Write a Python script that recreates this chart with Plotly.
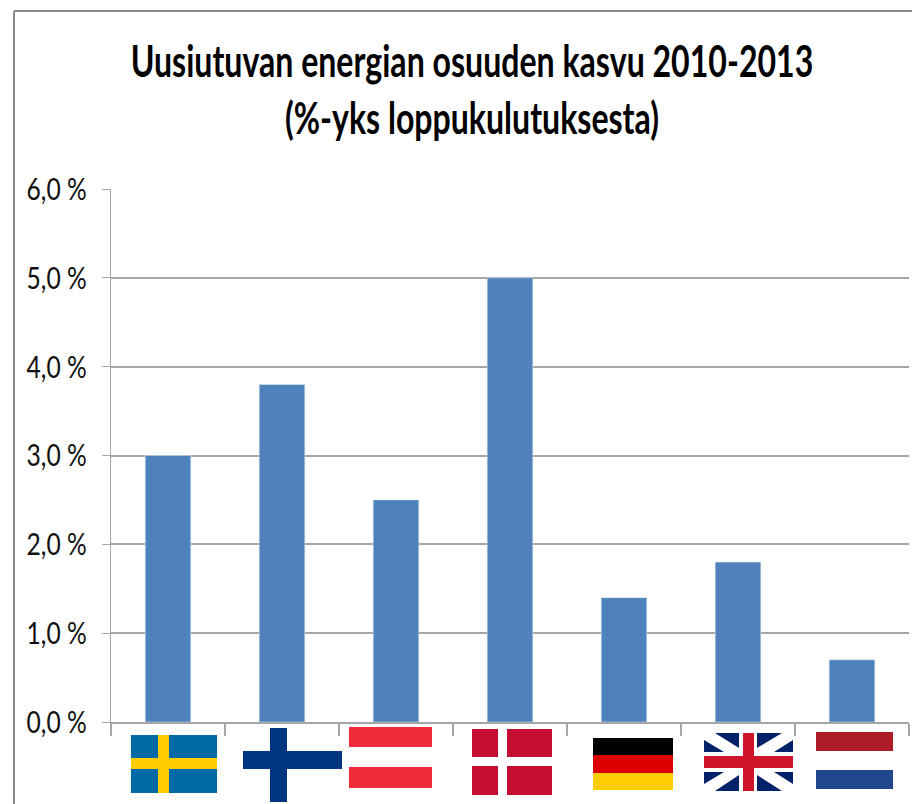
import plotly.graph_objects as go

countries = ["Ruotsi", "Suomi", "Itävalta", "Tanska", "Saksa", "Iso-Britannia", "Alankomaat"]
growth = [3.0, 3.8, 2.5, 5.0, 1.4, 1.8, 0.7]
y_ticks = [0, 1, 2, 3, 4, 5, 6]
y_labels = ["0,0 %", "1,0 %", "2,0 %", "3,0 %", "4,0 %", "5,0 %", "6,0 %"]
title_text = "Uusiutuvan energian osuuden kasvu 2010-2013<br>(%-yks loppukulutuksesta)"

W, H = 912, 804
L, R, T, B = 111, 909, 189, 722
FONT = "Lato, sans-serif"
GRAY = "#a6a6a6"


def px(x):
    return (x - L) / (R - L)


def py(y):
    return (B - y) / (B - T)


shapes = []


def rect(x0, y0, x1, y1, color):
    shapes.append(dict(type="rect", xref="paper", yref="paper", layer="above",
                       x0=px(x0), x1=px(x1), y0=py(y1), y1=py(y0),
                       fillcolor=color, line_width=0))


def poly(points, color):
    d = "M " + " L ".join(f"{px(a):.5f} {py(b):.5f}" for a, b in points) + " Z"
    shapes.append(dict(type="path", xref="paper", yref="paper", layer="above",
                       path=d, fillcolor=color, line_width=0))


# Sweden
rect(131, 735, 217, 793, "#006aa7")
rect(158, 735, 169, 793, "#fecc00")
rect(131, 758, 217, 769, "#fecc00")
# Finland
rect(243, 751, 342, 769, "#003580")
rect(270, 728, 287, 802, "#003580")
# Austria
rect(349, 727, 432, 747, "#ef2b3c")
rect(349, 767, 432, 788, "#ef2b3c")
# Denmark
for xa, xb in ((472, 498), (507, 552)):
    for ya, yb in ((729, 757), (766, 795)):
        rect(xa, ya, xb, yb, "#c60c30")
# Germany
rect(593, 738, 673, 755, "#000000")
rect(593, 755, 673, 773, "#dd0000")
rect(593, 773, 673, 790, "#ffce00")
# United Kingdom
UK_BLUE = "#012169"
for tri in (
    [(715, 733), (739, 733), (739, 748)],
    [(704, 740), (704, 752), (724, 752)],
    [(757, 733), (782, 733), (757, 748)],
    [(793, 740), (793, 752), (774, 752)],
    [(739, 791), (715, 791), (739, 775)],
    [(704, 784), (704, 772), (724, 772)],
    [(757, 791), (782, 791), (757, 775)],
    [(793, 784), (793, 772), (774, 772)],
):
    poly(tri, UK_BLUE)
rect(743, 733, 754, 791, "#cf142b")
rect(704, 756, 793, 768, "#cf142b")
# Netherlands
rect(816, 732, 893, 751, "#ae1c28")
rect(816, 770, 893, 789, "#21468b")

# Outer frame of the picture
for x0, y0, x1, y1 in ((14, 11, W, 11), (14, 11, 14, H)):
    shapes.append(dict(type="line", xref="paper", yref="paper", layer="above",
                       x0=px(x0), x1=px(x1), y0=py(y0), y1=py(y1),
                       line=dict(color="#8c8c8c", width=2)))

fig = go.Figure(go.Bar(x=countries, y=growth, marker_color="#4f81bd", width=0.4,
                       hovertemplate="%{x}: %{y:.1f} %<extra></extra>"))

fig.update_layout(
    width=W, height=H,
    margin=dict(l=L, r=W - R, t=T, b=H - B),
    paper_bgcolor="white", plot_bgcolor="white",
    showlegend=False,
    font=dict(family=FONT, color="#111111"),
    shapes=shapes,
    title=dict(text=title_text, x=472 / W, xanchor="center", y=1 - 77 / H, yanchor="top",
               font=dict(family=FONT, size=44, color="#000000", weight="bold")),
    xaxis=dict(type="category", showticklabels=False, ticks="outside", ticklen=12,
               tickwidth=1.5, tickcolor=GRAY, tickson="boundaries",
               showline=True, linecolor=GRAY, linewidth=2, showgrid=False, zeroline=False),
    yaxis=dict(range=[0, 6], tickvals=y_ticks, ticktext=y_labels, ticks="outside", ticklen=8,
               tickcolor=GRAY, showline=True, linecolor=GRAY, linewidth=1,
               gridcolor=GRAY, gridwidth=1.5, zeroline=False, ticklabelstandoff=9,
               tickfont=dict(family=FONT, size=31, color="#111111")),
)

# The reference's type is tall and condensed: squeeze the real text horizontally.
post = """
document.body.style.margin = '0';
function squeeze(el, sx) {
  if (el.dataset.squeezed) return;
  el.dataset.squeezed = '1';
  var x = parseFloat(el.getAttribute('x')) || 0;
  var old = el.getAttribute('transform') || '';
  el.setAttribute('transform', old + ' translate(' + x + ',0) scale(' + sx + ',1) translate(' + (-x) + ',0)');
}
function condense() {
  document.querySelectorAll('.gtitle').forEach(function (t) { squeeze(t, 0.729); });
  document.querySelectorAll('.ytick text').forEach(function (t) { squeeze(t, 0.795); });
}
condense();
setTimeout(condense, 50);
setTimeout(condense, 300);
"""
fig.write_html("out.html", config={"displayModeBar": False}, post_script=post)
